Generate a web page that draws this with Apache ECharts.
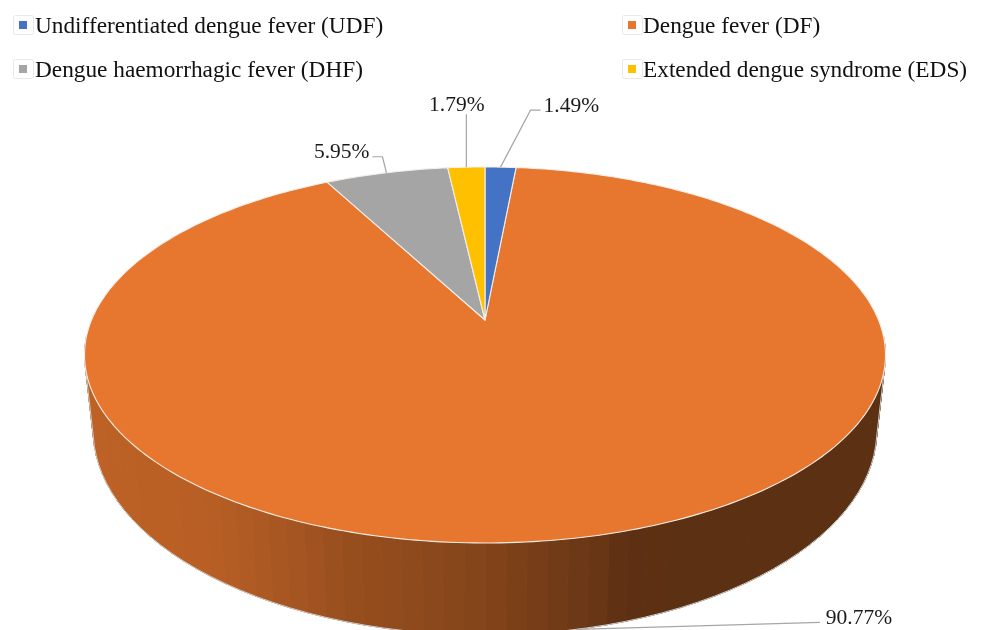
<!DOCTYPE html>
<html><head><meta charset="utf-8">
<style>html,body{margin:0;padding:0;background:#fff}#c{width:982px;height:630px}</style>
<script src="https://cdn.jsdelivr.net/npm/echarts@6/dist/echarts.min.js"></script>
</head><body><div id="c"></div>
<script>
// Data
const categories = ['Undifferentiated dengue fever (UDF)','Dengue fever (DF)','Dengue haemorrhagic fever (DHF)','Extended dengue syndrome (EDS)'];
const values = [1.49, 90.77, 5.95, 1.79];
const colors = ['#4472C4','#E7772E','#A5A5A5','#FFC000'];
// Label leader offsets from the rim anchor: elbow dx/dy, end dx/dy
const leaderOffsets = [[[30,-57],[40,-57]],[[243,-7],[243,-7]],[[-4,-16],[-14,-16]],[[0,-53],[0,-53]]];
const labelAnchor = ['left','left','right','center'];
const labelGap = [[3,-4],[6,-4],[-3,-4],[-9.5,2]];
// Projected disc geometry
const top3d = {cx:485, y0:320, A:393.5, B:181.5, k:0.186};
const bot3d = {cx:485, y0:392, A:385, B:197.8, k:0.186};
const shadeStops = [[-1,.82],[-.73,.80],[-.56,.75],[-.36,.66],[-.21,.62],[0,.57],[.19,.49],[.29,.45],[.34,.41],[.45,.40],[1,.40]];

const total = values.reduce((a,b)=>a+b,0);
function proj(g,deg){const t=deg*Math.PI/180,u=Math.sin(t),v=Math.cos(t),w=1+g.k*v;return [g.cx+g.A*u/w,g.y0-g.B*v/w];}
function shade(x){const f=(x-top3d.cx)/400;let s=shadeStops[shadeStops.length-1][1];
  for(let i=1;i<shadeStops.length;i++){if(f<=shadeStops[i][0]){const a=shadeStops[i-1],b=shadeStops[i];s=a[1]+(b[1]-a[1])*(f-a[0])/(b[0]-a[0]);break;}}return s;}
function tint(hex,s){const n=parseInt(hex.slice(1),16);const c=[n>>16,(n>>8)&255,n&255].map(q=>Math.round(q*s));return 'rgb('+c.join(',')+')';}

function startOf(idx){let c=0;for(let i=0;i<idx;i++)c+=values[i];return c/total*360;}

function makeRender(idx){return function(params,api){
  const val=api.value(0),a0=startOf(idx),a1=a0+val/total*360,kids=[];
  const step=2.5,n=Math.max(2,Math.ceil((a1-a0)/step));
  const edge=[];let lastTop=null;
  for(let i=0;i<n;i++){
    const p=a0+(a1-a0)*i/n,q=a0+(a1-a0)*(i+1)/n,mid=(p+q)/2;
    if(Math.cos(mid*Math.PI/180)>-0.1)continue;
    const t0=proj(top3d,p),t1=proj(top3d,q),b1=proj(bot3d,q),b0=proj(bot3d,p);
    const col=tint(colors[idx],shade((t0[0]+t1[0])/2));
    kids.push({type:'polygon',shape:{points:[t0,t1,b1,b0]},style:{fill:col,stroke:col,lineWidth:1},z2:1});
    if(Math.cos(p*Math.PI/180)<=-top3d.k&&Math.cos(q*Math.PI/180)<=-top3d.k){
      if(!edge.length)edge.push(t0,b0);
      edge.push(b1);lastTop=t1;
    }
  }
  if(edge.length){edge.push(lastTop);kids.push({type:'polyline',shape:{points:edge},style:{fill:null,stroke:'#cfcfcf',lineWidth:1},z2:2});}
  const face=[[top3d.cx,top3d.y0]],m=Math.max(2,Math.ceil(a1-a0));
  for(let i=0;i<=m;i++)face.push(proj(top3d,a0+(a1-a0)*i/m));
  kids.push({type:'polygon',shape:{points:face},style:{fill:colors[idx],stroke:'#f3eee8',lineWidth:1.1,lineJoin:'round'},z2:3});
  // leader and label
  const midA=(a0+a1)/2,geom=Math.cos(midA*Math.PI/180)<0?bot3d:top3d,an=proj(geom,midA);
  const off=leaderOffsets[idx],e=[an[0]+off[0][0],an[1]+off[0][1]],f=[an[0]+off[1][0],an[1]+off[1][1]];
  kids.push({type:'polyline',shape:{points:[an,e,f]},style:{fill:null,stroke:'#a6a6a6',lineWidth:1.2},z2:4});
  kids.push({type:'text',style:{text:val.toFixed(2)+'%',x:f[0]+labelGap[idx][0],y:f[1]+labelGap[idx][1],
    font:'21.5px "Liberation Serif"',fill:'#1a1a1a',align:labelAnchor[idx],verticalAlign:idx===3?'bottom':'middle'},z2:5});
  return {type:'group',children:kids};
};}

const series=categories.map((name,i)=>({type:'custom',name,coordinateSystem:'none',silent:true,
  itemStyle:{color:colors[i]},data:[[values[i]]],renderItem:makeRender(i),z:i===1?1:2,animation:false}));

const legendPos=[[19,12],[628,12],[19,56],[628,56]];
const legend=categories.map((name,i)=>({data:[{name,icon:'rect'}],left:legendPos[i][0],top:legendPos[i][1],padding:0,
  itemWidth:8,itemHeight:8,selectedMode:false,formatter:n=>'{t|'+n+'}',
  textStyle:{rich:{t:{fontFamily:'Liberation Serif',fontSize:23.3,lineHeight:28,color:'#111',padding:[3,0,0,i%2?2:3]}}}}));
const legendBoxes=legendPos.map(p=>({type:'rect',left:p[0]-6,top:p[1]+3,z:0,silent:true,
  shape:{width:20,height:19,r:2},style:{fill:'#fff',stroke:'#e8e8e8',lineWidth:1}}));

const chart=echarts.init(document.getElementById('c'),null,{renderer:'canvas'});
chart.setOption({animation:false,backgroundColor:'#fff',graphic:legendBoxes,legend,series});
</script></body></html>
